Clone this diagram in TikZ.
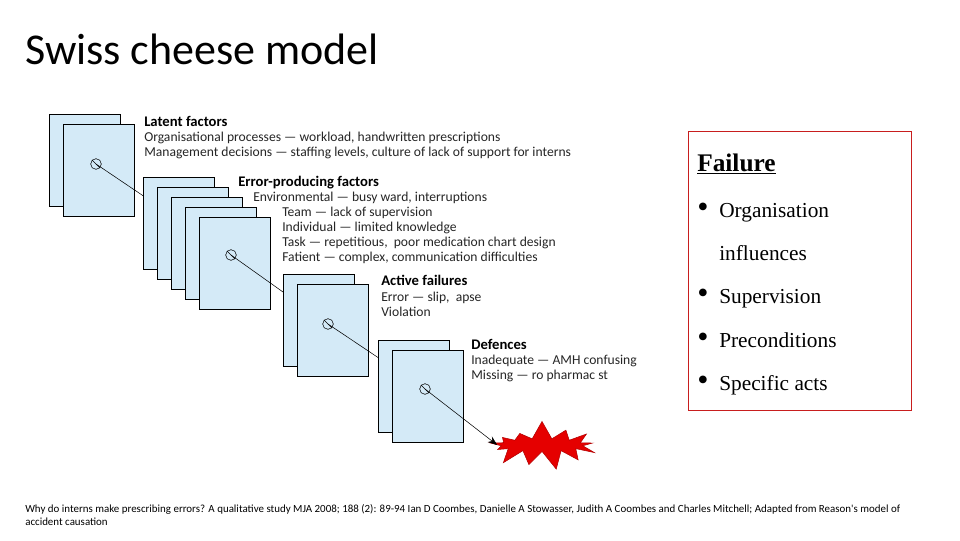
\documentclass[tikz,border=0pt]{standalone}
\usepackage{fontspec}
\setmainfont{Liberation Serif}
\newfontfamily\calibri{Carlito}
\usetikzlibrary{positioning,shapes,arrows.meta}
\definecolor{sheetblue}{RGB}{212,234,247}
\definecolor{boxred}{RGB}{200,30,30}
\tikzset{
    x=0.75pt, y=-0.75pt,
    % sheet of cheese
    sheet/.style={draw, fill=sheetblue, rectangle, anchor=north west,
                  minimum width=53.25pt, minimum height=69pt, inner sep=0pt},
    hole/.style={draw, circle, minimum size=8pt, inner sep=0pt},
    headtext/.style={anchor=base west, inner sep=0pt, font=\calibri\fontsize{11}{13}\selectfont\bfseries},
    bodytext/.style={anchor=base west, inner sep=0pt, font=\calibri\fontsize{10.2}{12}\selectfont, text=black!85},
    bullet/.style={anchor=base west, inner sep=0pt, font=\fontsize{16}{19}\selectfont}
}
\newcommand{\cheese}[4]{% name, x, y, count
  \foreach \k in {1,...,#4}{
    \node[sheet] (#1\k) at ({#2+14*(\k-1)},{#3+10*(\k-1)}) {};
  }
}
\newcommand{\bul}{\makebox[16.5pt][l]{\raisebox{0pt}{\fontsize{24}{24}\selectfont\textbullet}}}
\begin{document}
\begin{tikzpicture}
\useasboundingbox[fill=white] (0,0) rectangle (960,540);
% title
\node[anchor=base west, inner sep=0pt, font=\calibri\fontsize{33}{38}\selectfont] (title) at (25,64) {Swiss cheese model};
% holes
\coordinate (h1) at (96,164);
\coordinate (h2) at (231,255);
\coordinate (h3) at (328,324);
\coordinate (h4) at (425,389);
\node[starburst, fill=red!90!black, draw=red!70!black, minimum width=90pt, minimum height=38pt, starburst points=13, random starburst=7] (bang) at (542,445) {};
% layers
\cheese{lat}{49}{114}{2}
\node[hole] (c1) at (h1) {};
\draw (h1) -- (h2);
\cheese{err}{143}{177}{5}
\node[hole] (c2) at (h2) {};
\draw (h2) -- (h3);
\cheese{act}{283}{274}{2}
\node[hole] (c3) at (h3) {};
\draw (h3) -- (h4);
\cheese{def}{378}{340}{2}
\node[hole] (c4) at (h4) {};
\draw[-{Stealth[length=7pt]}] (h4) -- (bang.west);
\foreach \c in {c1,c2,c3,c4}{\draw (\c.north west) -- (\c.south east);}
% labels
\node[headtext] (latH) at (144,126) {Latent factors};
\node[bodytext] (lat1) at (144,141) {Organisational processes — workload, handwritten prescriptions};
\node[bodytext] (lat2) at (144,156) {Management decisions — staffing levels, culture of lack of support for interns};
\node[headtext] (errH) at (238,186) {Error-producing factors};
\node[bodytext] (err1) at (253,201) {Environmental — busy ward, interruptions};
\node[bodytext] (err2) at (282,216) {Team — lack of supervision};
\node[bodytext] (err3) at (282,231) {Individual — limited knowledge};
\node[bodytext] (err4) at (282,246) {Task — repetitious,\ \ poor medication chart design};
\node[bodytext] (err5) at (282,261) {Fatient — complex, communication difficulties};
\node[headtext] (actH) at (381,285) {Active failures};
\node[bodytext] (act1) at (381,301) {Error — slip,\ \ apse};
\node[bodytext] (act2) at (381,316) {Violation};
\node[headtext] (defH) at (471,349) {Defences};
\node[bodytext] (def1) at (471,364) {Inadequate — AMH confusing};
\node[bodytext] (def2) at (471,379) {Missing — ro pharmac st};
% failure box
\draw[boxred] (688,131) rectangle (911,410);
\node[bullet, font=\fontsize{19}{22}\selectfont\bfseries] (fail) at (697,171) {\underline{Failure}};
\node[bullet] (b1) at (697,217) {\bul Organisation};
\node[bullet] (b1b) at (719,260) {influences};
\node[bullet] (b2) at (697,303) {\bul Supervision};
\node[bullet] (b3) at (697,347) {\bul Preconditions};
\node[bullet] (b4) at (697,390) {\bul Specific acts};
% source
\node[anchor=north west, inner sep=0pt, align=left,
      font=\calibri\fontsize{8.2}{9.8}\selectfont] (src) at (25,504)
  {Why do interns make prescribing errors? A qualitative study MJA 2008; 188 (2): 89-94 Ian D Coombes, Danielle A Stowasser, Judith A Coombes and Charles Mitchell; Adapted from Reason's model of\\ accident causation};
\end{tikzpicture}
\end{document}
